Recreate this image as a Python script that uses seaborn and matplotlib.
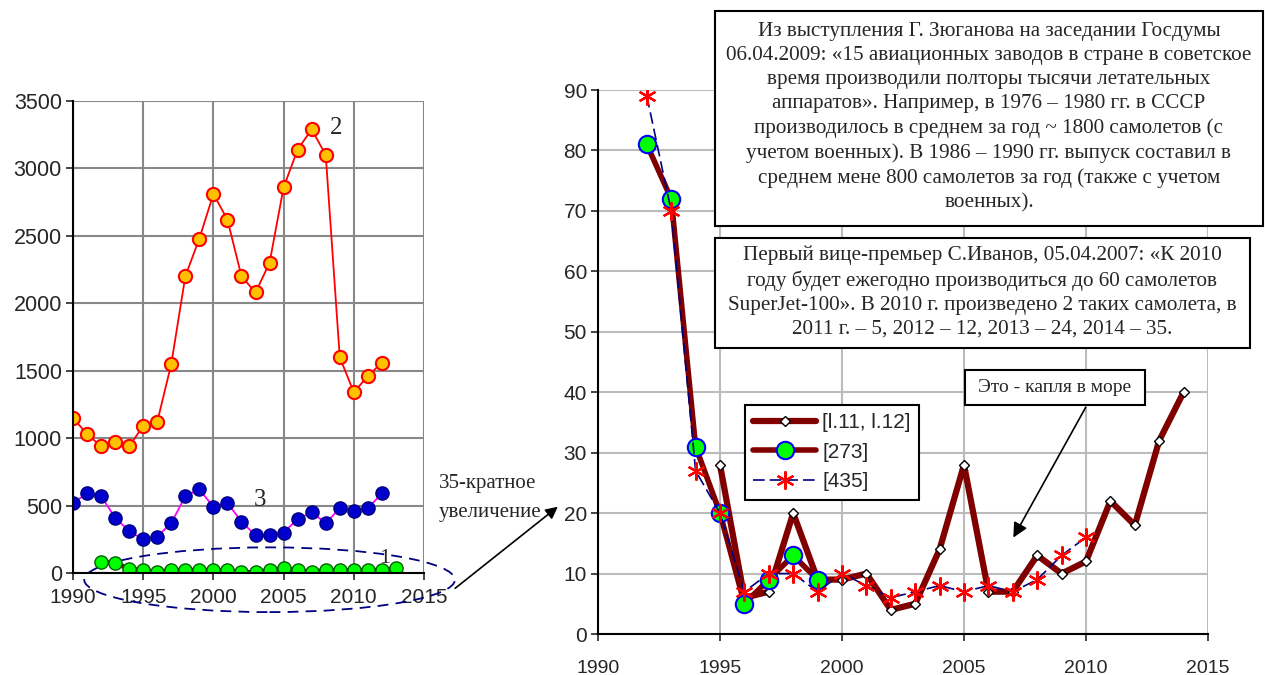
import matplotlib
matplotlib.use("Agg")
import matplotlib.pyplot as plt
import seaborn as sns
from matplotlib.patches import Ellipse, Rectangle, FancyArrowPatch

# ---- data (left chart) ----
years_2 = [1990, 1991, 1992, 1993, 1994, 1995, 1996, 1997, 1998, 1999, 2000, 2001,
           2002, 2003, 2004, 2005, 2006, 2007, 2008, 2009, 2010, 2011, 2012]
series_2 = [1150, 1030, 940, 970, 940, 1090, 1120, 1550, 2200, 2480, 2810, 2620,
            2200, 2080, 2300, 2860, 3140, 3290, 3100, 1600, 1340, 1460, 1560]
years_3 = years_2
series_3 = [520, 590, 570, 410, 310, 250, 270, 370, 570, 620, 490, 520,
            380, 280, 280, 300, 400, 450, 370, 480, 460, 480, 590]
years_1 = [1992, 1993, 1994, 1995, 1996, 1997, 1998, 1999, 2000, 2001, 2002,
           2003, 2004, 2005, 2006, 2007, 2008, 2009, 2010, 2011, 2012, 2013]
series_1 = [80, 75, 30, 20, 5, 20, 20, 20, 20, 20, 5,
            5, 20, 35, 20, 5, 20, 20, 20, 20, 20, 35]

# ---- data (right chart) ----
years_l11 = [1995, 1996, 1997, 1998, 1999, 2000, 2001, 2002, 2003, 2004,
             2005, 2006, 2007, 2008, 2009, 2010, 2011, 2012, 2013, 2014]
vals_l11 = [28, 6, 7, 20, 9, 9, 10, 4, 5, 14,
            28, 7, 7, 13, 10, 12, 22, 18, 32, 40]
years_273 = [1992, 1993, 1994, 1995, 1996, 1997, 1998, 1999]
vals_273 = [81, 72, 31, 20, 5, 9, 13, 9]
years_435 = [1992, 1993, 1994, 1995, 1996, 1997, 1998, 1999, 2000, 2001,
             2002, 2003, 2004, 2005, 2006, 2007, 2008, 2009, 2010]
vals_435 = [89, 70, 27, 20, 7, 10, 10, 7, 10, 8,
            6, 7, 8, 7, 8, 7, 9, 13, 16]

legend_labels = ["[l.11, l.12]", "[273]", "[435]"]

note_1 = ("Из выступления Г. Зюганова на заседании Госдумы\n"
          "06.04.2009: «15 авиационных заводов в стране в советское\n"
          "время производили полторы тысячи летательных\n"
          "аппаратов». Например, в 1976 – 1980 гг. в СССР\n"
          "производилось в среднем за год ~ 1800 самолетов (с\n"
          "учетом военных). В 1986 – 1990 гг. выпуск составил в\n"
          "среднем мене 800 самолетов за год (также с учетом\n"
          "военных).")
note_2 = ("Первый вице-премьер С.Иванов, 05.04.2007: «К 2010\n"
          "году будет ежегодно производиться до 60 самолетов\n"
          "SuperJet-100». В 2010 г. произведено 2 таких самолета, в\n"
          "2011 г. – 5, 2012 – 12, 2013 – 24, 2014 – 35.")
note_3 = "Это - капля в море"

sns.set_style("white")
plt.rcParams['font.family'] = ['Liberation Sans', 'DejaVu Sans']
serif = ['Liberation Serif', 'DejaVu Serif']

fig = plt.figure(figsize=(12.65, 6.75), dpi=100)
W, H = 1265, 675

def fx(px):
    return px / W

def fy(py):
    return 1 - py / H

ax1 = fig.add_axes([fx(73), fy(573), fx(424) - fx(73), fy(101) - fy(573)])
ax2 = fig.add_axes([fx(598), fy(634), fx(1208) - fx(598), fy(90) - fy(634)])

# ---- left chart ----
sns.lineplot(x=years_2, y=series_2, ax=ax1, color="#FF0000", lw=1.3,
             marker="o", markersize=9.5, markerfacecolor="#FFC000",
             markeredgecolor="#FF0000", markeredgewidth=1.5)
sns.lineplot(x=years_3, y=series_3, ax=ax1, color="#FF00FF", lw=1.3,
             marker="o", markersize=9.5, markerfacecolor="#0000CC",
             markeredgecolor="#000080", markeredgewidth=1)
sns.lineplot(x=years_1, y=series_1, ax=ax1, color="#800000", lw=3.5,
             marker="o", markersize=9.5, markerfacecolor="#00FF00",
             markeredgecolor="#006000", markeredgewidth=1)

ax1.set_xlim(1990, 2015)
ax1.set_ylim(0, 3500)
ax1.set_xticks(range(1990, 2016, 5))
ax1.set_yticks(range(0, 3501, 500))
ax1.grid(True, color="#888888", lw=1.5)
for s in ["top", "right"]:
    ax1.spines[s].set_visible(False)
for s in ["left", "bottom"]:
    ax1.spines[s].set_color("black")
    ax1.spines[s].set_linewidth(1.5)
ax1.tick_params(axis="y", direction="out", length=5, width=1.2, labelsize=15.5,
                pad=3, left=True)
ax1.tick_params(axis="x", direction="out", length=5, width=1.2, labelsize=15,
                pad=6, bottom=True)
ax1.set_xlabel("")
ax1.set_ylabel("")

ax1.text(2008.3, 3300, "2", family=serif, fontsize=18, va="center")
ax1.text(2002.9, 540, "3", family=serif, fontsize=18, va="center")
ax1.text(2011.8, 110, "1", family=serif, fontsize=16, va="center")

ell = Ellipse((2004.0, -50), 26.4, 480, fill=False, edgecolor="#000080",
              lw=1.3, linestyle=(0, (6, 4)), clip_on=False)
ax1.add_patch(ell)

fig.text(fx(439), fy(498), "35-кратное\nувеличение", family=serif,
         fontsize=15, va="center", ha="left", linespacing=1.75)
fig.add_artist(FancyArrowPatch(
    (fx(453), fy(590)), (fx(560), fy(505)), transform=fig.transFigure,
    arrowstyle="-|>", mutation_scale=18, color="black", lw=1.2))

# ---- right chart ----
sns.lineplot(x=years_l11, y=vals_l11, ax=ax2, color="#800000", lw=4.5,
             marker="D", markersize=5, markerfacecolor="white",
             markeredgecolor="black", markeredgewidth=1,
             label=legend_labels[0], zorder=3)
sns.lineplot(x=years_273, y=vals_273, ax=ax2, color="#800000", lw=4,
             marker="o", markersize=12.5, markerfacecolor="#00FF00",
             markeredgecolor="#0000FF", markeredgewidth=1.5,
             label=legend_labels[1], zorder=4)
sns.lineplot(x=years_435, y=vals_435, ax=ax2, color="#000080", lw=1.2,
             linestyle=(0, (7, 3)), marker=(6, 2, 0), markersize=13,
             markeredgecolor="#FF0000", markeredgewidth=1.6,
             label=legend_labels[2], zorder=5)

ax2.set_xlim(1990, 2015)
ax2.set_ylim(0, 90)
ax2.set_xticks(range(1990, 2016, 5))
ax2.set_yticks(range(0, 91, 10))
ax2.grid(True, color="#BBBBBB", lw=1.5)
for s in ["top", "right"]:
    ax2.spines[s].set_visible(False)
for s in ["left", "bottom"]:
    ax2.spines[s].set_color("black")
    ax2.spines[s].set_linewidth(1.5)
ax2.tick_params(axis="y", direction="out", length=5, width=1.2,
                labelsize=15, pad=3, left=True)
ax2.tick_params(axis="x", direction="out", length=5, width=1.2,
                labelsize=14, pad=14, bottom=True)
ax2.set_xlabel("")
ax2.set_ylabel("")

leg = ax2.legend(loc="upper left", bbox_to_anchor=(fx(745), fy(405)),
                 bbox_transform=fig.transFigure, borderaxespad=0,
                 fontsize=15, frameon=True, fancybox=False,
                 handlelength=3.0, handletextpad=0.3, labelspacing=0.5,
                 borderpad=0.4)
leg.get_frame().set_edgecolor("black")
leg.get_frame().set_linewidth(1.5)
leg.get_frame().set_alpha(1)

# ---- annotation boxes ----
def box(x0, y0, x1, y1):
    r = Rectangle((fx(x0), fy(y1)), fx(x1) - fx(x0), fy(y0) - fy(y1),
                  transform=fig.transFigure, facecolor="white",
                  edgecolor="black", lw=1.5, zorder=6)
    fig.add_artist(r)

box(715, 11, 1263, 226)
fig.text(fx(989), fy(117), note_1, family=serif, fontsize=15.2,
         ha="center", va="center", linespacing=1.36, zorder=7)
box(715, 238, 1250, 348)
fig.text(fx(982), fy(292), note_2, family=serif, fontsize=15.2,
         ha="center", va="center", linespacing=1.36, zorder=7)
box(965, 370, 1145, 405)
fig.text(fx(1055), fy(387), note_3, family=serif, fontsize=14,
         ha="center", va="center", zorder=7)
fig.add_artist(FancyArrowPatch(
    (fx(1087), fy(405)), (fx(1012), fy(540)), transform=fig.transFigure,
    arrowstyle="-|>", mutation_scale=22, color="black", lw=1.2, zorder=6))

fig.savefig("out.png", dpi=100)
